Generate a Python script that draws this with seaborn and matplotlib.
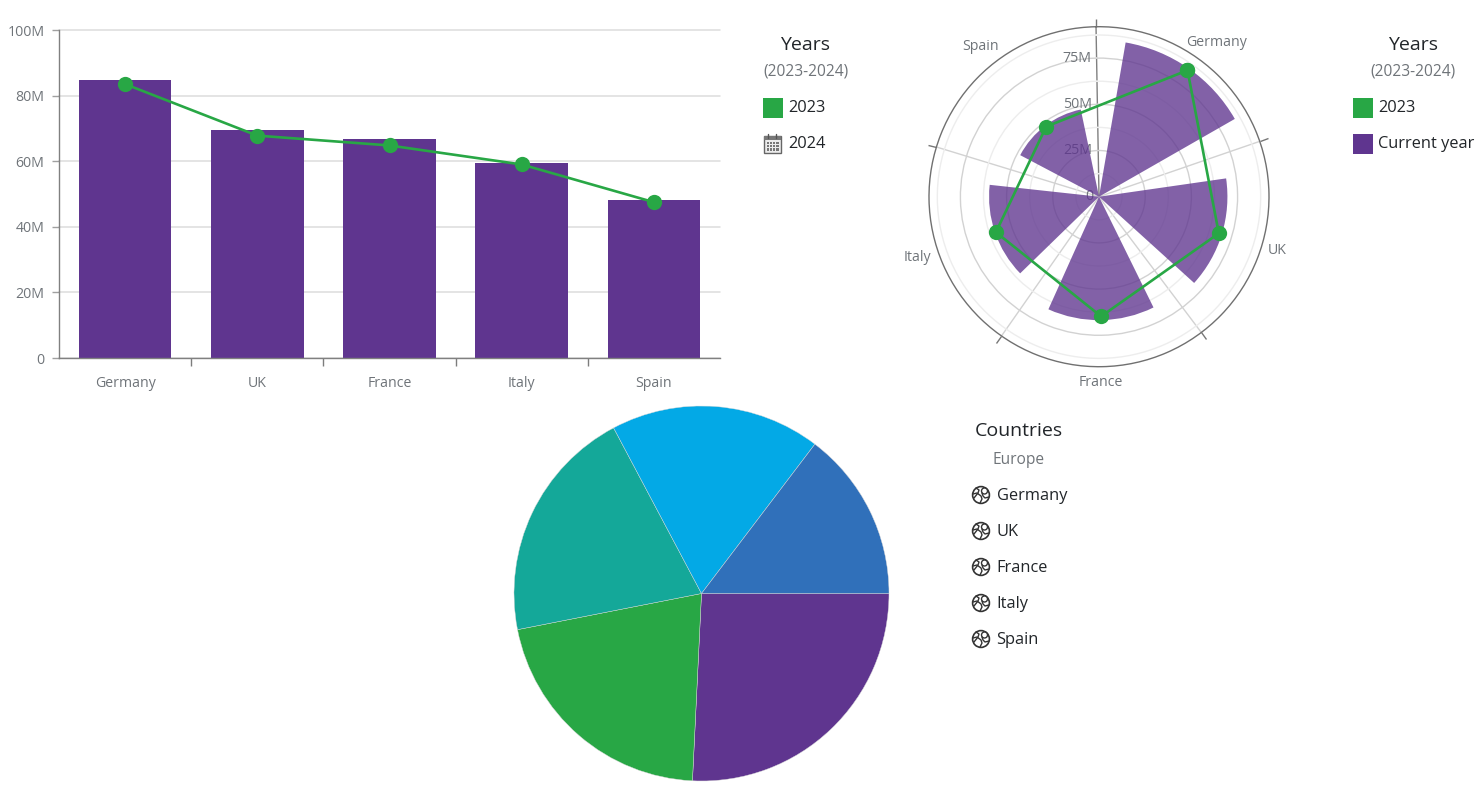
import numpy as np
import matplotlib
matplotlib.use("Agg")
import matplotlib.pyplot as plt
import seaborn as sns
from matplotlib.patches import Rectangle, Circle

# data (millions)
countries = ["Germany", "UK", "France", "Italy", "Spain"]
current_year = [84.7, 69.5, 66.8, 59.5, 48.2]
year_2023 = [83.5, 67.8, 64.8, 59.0, 47.5]
bar_ticks = [0, 20, 40, 60, 80, 100]
bar_tick_labels = ["0", "20M", "40M", "60M", "80M", "100M"]
polar_ticks = [25, 50, 75]
polar_minor_ticks = [12.5, 37.5, 62.5, 87.5]
polar_tick_labels = ["25M", "50M", "75M"]
polar_max = 92
pie_colors = ["#5F358F", "#28A745", "#14A899", "#03A9E6", "#3070BA"]

PURPLE = "#5F358F"
GREEN = "#28A745"
GRAY_TEXT = "#6f7479"
DARK_TEXT = "#212529"
W, H = 1484, 788

sns.set_theme(style="white")
plt.rcParams["font.family"] = ["Open Sans", "DejaVu Sans"]

fig = plt.figure(figsize=(W / 100, H / 100), dpi=100, facecolor="white")


def px_axes(left, top, width, height, **kw):
    return fig.add_axes([left / W, 1 - (top + height) / H, width / W, height / H], **kw)


# =========================
# 1. Bars + line
# =========================
ax = px_axes(59, 30, 661, 328)
sns.barplot(x=countries, y=current_year, color=PURPLE, saturation=1, width=0.7, lw=0, ax=ax, zorder=2)
sns.lineplot(x=countries, y=year_2023, color=GREEN, lw=1.9, marker="o", ms=11, mew=0, ax=ax, zorder=3)
ax.set_xlim(-0.5, 4.5)
ax.set_ylim(0, 100)
ax.set_xlabel("")
ax.set_ylabel("")
ax.set_yticks(bar_ticks, bar_tick_labels)
ax.set_xticks(np.arange(0.5, 4), [""] * 4)
ax.set_xticks(np.arange(5), countries, minor=True)
ax.tick_params(axis="x", which="major", length=6, width=1, color="#7d7d7d", bottom=True)
ax.tick_params(axis="x", which="minor", length=0, pad=13, labelsize=10.2, labelcolor=GRAY_TEXT)
ax.tick_params(axis="y", length=5, width=1, color="#a0a0a0", pad=5.5, labelsize=10.2, labelcolor=GRAY_TEXT, left=True)
ax.grid(axis="y", color="#dcdcdc", lw=1.1)
for line in ax.get_ygridlines():
    line.set_clip_on(False)
ax.set_axisbelow(True)
for side in ["top", "right"]:
    ax.spines[side].set_visible(False)
for side in ["left", "bottom"]:
    ax.spines[side].set_color("#808080")
    ax.spines[side].set_linewidth(1)

# =========================
# 2. Polar bars + line
# =========================
pol = px_axes(929, 26.7, 340, 340, projection="polar")
pol.set_theta_zero_location("N", offset=1)
pol.set_theta_direction(-1)
band = 2 * np.pi / len(countries)
centres = band * (np.arange(len(countries)) + 0.5)

pol.bar(centres, current_year, width=band * 0.7, color=PURPLE, alpha=0.78, lw=0, zorder=1)
sns.lineplot(
    x=list(centres) + [centres[0]], y=year_2023 + [year_2023[0]], sort=False, estimator=None,
    color=GREEN, lw=1.9, marker="o", ms=11, mew=0, ax=pol, zorder=3,
)
pol.set_xlabel("")
pol.set_ylabel("")

pol.set_xticks(band * np.arange(5), [""] * 5)
pol.set_xlim(0, 2 * np.pi)
pol.set_ylim(0, polar_max)
pol.tick_params(axis="x", which="major", direction="out", length=6, width=1, color="#777777",
                top=True, bottom=False)
pol.set_yticks(polar_ticks, [""] * 3)
pol.set_yticks(polar_minor_ticks, minor=True)
pol.tick_params(axis="y", which="both", length=0)
pol.grid(axis="x", which="major", color="#d2d2d2", lw=1)
pol.grid(axis="y", which="major", color="#d2d2d2", lw=1)
pol.grid(axis="y", which="minor", color="#ededed", lw=1)
pol.set_axisbelow(True)
pol.xaxis.get_gridlines()[0].set_color("#808080")
pol.spines["polar"].set_color("#707070")
pol.spines["polar"].set_linewidth(1)
for val, lab in zip([0] + polar_ticks, ["0"] + polar_tick_labels):
    pol.annotate(lab, xy=(0, val), xytext=(-4, 0), textcoords="offset points", ha="right", va="center",
                 fontsize=10.2, color=GRAY_TEXT, zorder=0.7)
# category labels sit outside the rim, pushed out by hand (pixels)
label_offsets = [(20.5, 15.4), (15.4, -3.6), (-1, -16.3), (-21, -5), (-15.7, 14.9)]
for theta, name, (dx, dy) in zip(centres, countries, label_offsets):
    pol.annotate(name, xy=(theta, polar_max), xytext=(dx * 0.72, dy * 0.72), textcoords="offset points",
                 ha="center", va="center", fontsize=10.2, color=GRAY_TEXT, annotation_clip=False)

# =========================
# 3. Pie
# =========================
pie = px_axes(514, 406, 375, 375)
pie.pie(current_year, colors=sns.color_palette(pie_colors), startangle=0, counterclock=False, radius=1,
        wedgeprops={"lw": 0.3, "edgecolor": "#d8d8d8", "clip_on": False})
pie.set_xlim(-1, 1)
pie.set_ylim(-1, 1)

# =========================
# 4. Legends, in pixel coordinates
# =========================
leg = fig.add_axes([0, 0, 1, 1], zorder=5)
leg.set_xlim(0, W)
leg.set_ylim(H, 0)
leg.axis("off")


def swatch(x, y, color):
    leg.add_patch(Rectangle((x, y - 10), 20, 20, color=color, lw=0))


def calendar(x, y):
    leg.add_patch(Rectangle((x + 1, y - 8), 17, 17, fc="#ececec", ec="#666666", lw=1))
    leg.add_patch(Rectangle((x + 1, y - 8), 17, 4, fc="#777777", lw=0))
    for i in range(4):
        for j in range(3):
            leg.add_patch(Rectangle((x + 3.5 + i * 3.3, y - 2 + j * 3.4), 2.2, 2.2, fc="#777777", lw=0))
    for i in [5, 13]:
        leg.plot([x + i, x + i], [y - 10, y - 6], color="#555555", lw=1)


def globe(x, y):
    cx, cy = x + 9, y
    leg.add_patch(Circle((cx, cy), 8.4, fc="none", ec="#333333", lw=1.2))
    leg.plot([cx - 8, cx - 4, cx, cx + 1, cx - 1], [cy - 1, cy - 2, cy + 1, cy + 4, cy + 8], color="#333333", lw=1)
    leg.plot([cx + 8, cx + 4, cx + 2, cx + 1], [cy + 2, cy + 3, cy + 1, cy - 2], color="#333333", lw=1)
    leg.plot([cx - 5, cx - 2, cx - 3, cx - 7], [cy - 7, cy - 5, cy - 2, cy + 3], color="#333333", lw=1)
    leg.add_patch(Circle((cx + 3.5, cy - 4), 3, fc="white", ec="#333333", lw=1))


def title_block(cx, title, sub, y1, y2):
    leg.text(cx, y1 + 0.5, title, ha="center", va="center", fontsize=14, color=DARK_TEXT)
    leg.text(cx, y2 + 0.5, sub, ha="center", va="center", fontsize=11.2, color=GRAY_TEXT)


def entry(x, y, label):
    leg.text(x, y + 0.5, label, ha="left", va="center", fontsize=11.8, color=DARK_TEXT)


title_block(805.5, "Years", "(2023-2024)", 44, 71)
swatch(763, 107.5, GREEN)
entry(788, 107.5, "2023")
calendar(763, 143.5)
entry(788, 143.5, "2024")

title_block(1413, "Years", "(2023-2024)", 44, 71)
swatch(1353, 107.5, GREEN)
entry(1378.5, 107.5, "2023")
swatch(1353, 143.5, PURPLE)
entry(1378.5, 143.5, "Current year")

title_block(1019, "Countries", "Europe", 430, 459)
for i, name in enumerate(countries):
    globe(972, 495 + 36 * i)
    entry(996.5, 495 + 36 * i, name)

fig.savefig("out.png", dpi=100)
